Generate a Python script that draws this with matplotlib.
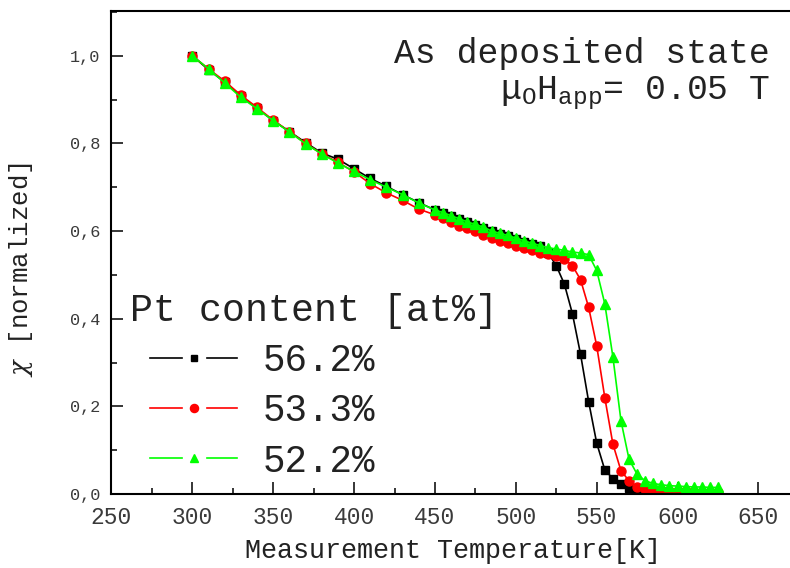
import matplotlib
matplotlib.use('Agg')
import matplotlib.pyplot as plt
from matplotlib.legend_handler import HandlerBase
from matplotlib.lines import Line2D
from matplotlib.ticker import MultipleLocator, FuncFormatter

plt.rcParams['font.family'] = ['Liberation Mono', 'DejaVu Sans']
plt.rcParams['mathtext.fontset'] = 'custom'
plt.rcParams['mathtext.rm'] = 'Liberation Mono'
plt.rcParams['mathtext.it'] = 'DejaVu Serif:italic'

# 温度 [K]
temps = [300, 310, 320, 330, 340, 350, 360, 370, 380, 390, 400, 410, 420, 430, 440,
         450, 455, 460, 465, 470, 475, 480, 485, 490, 495, 500, 505, 510, 515, 520,
         525, 530, 535, 540, 545, 550, 555, 560, 565, 570, 575, 580, 585, 590, 595,
         600, 605, 610, 615, 620, 625]

# 56.2% Pt
chi_562 = [1.000, 0.968, 0.940, 0.908, 0.880, 0.852, 0.827, 0.802, 0.778, 0.764,
           0.742, 0.720, 0.702, 0.683, 0.665, 0.648, 0.641, 0.634, 0.627, 0.620,
           0.614, 0.607, 0.601, 0.594, 0.588, 0.582, 0.576, 0.570, 0.565, 0.550,
           0.521, 0.479, 0.411, 0.319, 0.211, 0.116, 0.055, 0.035, 0.023, 0.014,
           0.009, 0.007, 0.005, 0.004, 0.003, 0.003]
# 53.3% Pt
chi_533 = [1.000, 0.970, 0.942, 0.910, 0.882, 0.853, 0.827, 0.800, 0.776, 0.757,
           0.735, 0.708, 0.687, 0.670, 0.650, 0.637, 0.629, 0.620, 0.612, 0.606,
           0.600, 0.592, 0.585, 0.578, 0.572, 0.566, 0.561, 0.556, 0.551, 0.547,
           0.542, 0.536, 0.521, 0.489, 0.426, 0.338, 0.220, 0.114, 0.053, 0.030,
           0.017, 0.011, 0.009, 0.008, 0.007, 0.006, 0.006, 0.005, 0.005, 0.005,
           0.005]
# 52.2% Pt
chi_522 = [1.000, 0.970, 0.938, 0.905, 0.879, 0.852, 0.826, 0.799, 0.776, 0.755,
           0.736, 0.717, 0.700, 0.683, 0.664, 0.648, 0.642, 0.635, 0.628, 0.621,
           0.615, 0.609, 0.600, 0.595, 0.590, 0.584, 0.578, 0.572, 0.567, 0.562,
           0.559, 0.556, 0.552, 0.550, 0.546, 0.510, 0.434, 0.313, 0.167, 0.079,
           0.045, 0.030, 0.024, 0.021, 0.019, 0.018, 0.017, 0.016, 0.016, 0.015,
           0.015]

labels = ['56.2%', '53.3%', '52.2%']
colors = ['black', '#ff0000', '#00ff00']
markers = ['s', 'o', '^']
msizes = [5.5, 6.5, 7]


class GapHandler(HandlerBase):
    """Linie - Symbol - Linie, mit Luecken neben dem Symbol"""
    def create_artists(self, legend, orig, xdescent, ydescent, width, height,
                       fontsize, trans):
        y = height / 2 - ydescent
        x0 = -xdescent
        kw = dict(color=orig.get_color(), lw=orig.get_linewidth())
        a = Line2D([x0 + 0.19 * width, x0 + 0.49 * width], [y, y], **kw)
        b = Line2D([x0 + 0.72 * width, x0 + 1.0 * width], [y, y], **kw)
        m = Line2D([x0 + 0.60 * width], [y], ls='none', marker=orig.get_marker(),
                   color=orig.get_color(), ms=orig.get_markersize() * 0.9)
        for art in (a, b, m):
            art.set_transform(trans)
        return [a, b, m]


fig = plt.figure(figsize=(7.9, 5.68), dpi=100)
ax = fig.add_axes([0.1411, 0.1303, 0.8589, 0.8495])

series = [chi_562, chi_533, chi_522]
handles = []
for ys, lab, c, mk, ms in zip(series, labels, colors, markers, msizes):
    h, = ax.plot(temps[:len(ys)], ys, color=c, marker=mk, ms=ms, lw=1.2,
                 mec=c, label=lab)
    handles.append(h)

ax.set_xlim(250, 669.5)
ax.set_ylim(0, 1.101)
ax.xaxis.set_major_locator(MultipleLocator(50))
ax.xaxis.set_minor_locator(MultipleLocator(25))
ax.yaxis.set_major_locator(MultipleLocator(0.2))
ax.yaxis.set_minor_locator(MultipleLocator(0.1))
ax.yaxis.set_major_formatter(FuncFormatter(lambda v, p: f'{v:.1f}'.replace('.', ',')))

ax.tick_params(which='both', direction='in', width=1.1, colors='black',
               labelcolor='#3a3a3a')
ax.tick_params(which='major', length=8.5)
ax.tick_params(which='minor', length=4.5)
ax.tick_params(axis='x', pad=9, labelsize=16.5)
ax.tick_params(axis='y', pad=8, labelsize=12.2)
ax.spines['right'].set_visible(False)
for s in ['left', 'bottom', 'top']:
    ax.spines[s].set_linewidth(1.5)

ax.set_xlabel('Measurement Temperature[K]', fontsize=19.3, color='#222222')
ax.xaxis.set_label_coords(0.503, -0.092)
ax.set_ylabel(r'$\chi$ [normalized]', fontsize=18.5, color='#222222')
ax.yaxis.set_label_coords(-0.113, 0.465)

fig.text(770 / 790, 1 - 53 / 568, 'As deposited state', ha='right', va='center',
         fontsize=25, color='#222222')
fig.text(770 / 790, 1 - 93 / 568,
         r'$\mathrm{\mu}_{\mathrm{O}}\mathrm{H}_{\mathrm{app}}$= 0.05 T',
         ha='right', va='center', fontsize=25, color='#222222')

leg = ax.legend(handles=handles, title='Pt content [at%]', loc='upper left',
                bbox_to_anchor=(0.005, 0.448), frameon=False, fontsize=27,
                title_fontsize=27.5, handlelength=2.85, handletextpad=0.7,
                labelspacing=0.38, alignment='left', borderaxespad=0,
                handler_map={Line2D: GapHandler()})
for t in leg.get_texts():
    t.set_color('#222222')
leg.get_title().set_color('#222222')

fig.savefig('out.png', dpi=100)
